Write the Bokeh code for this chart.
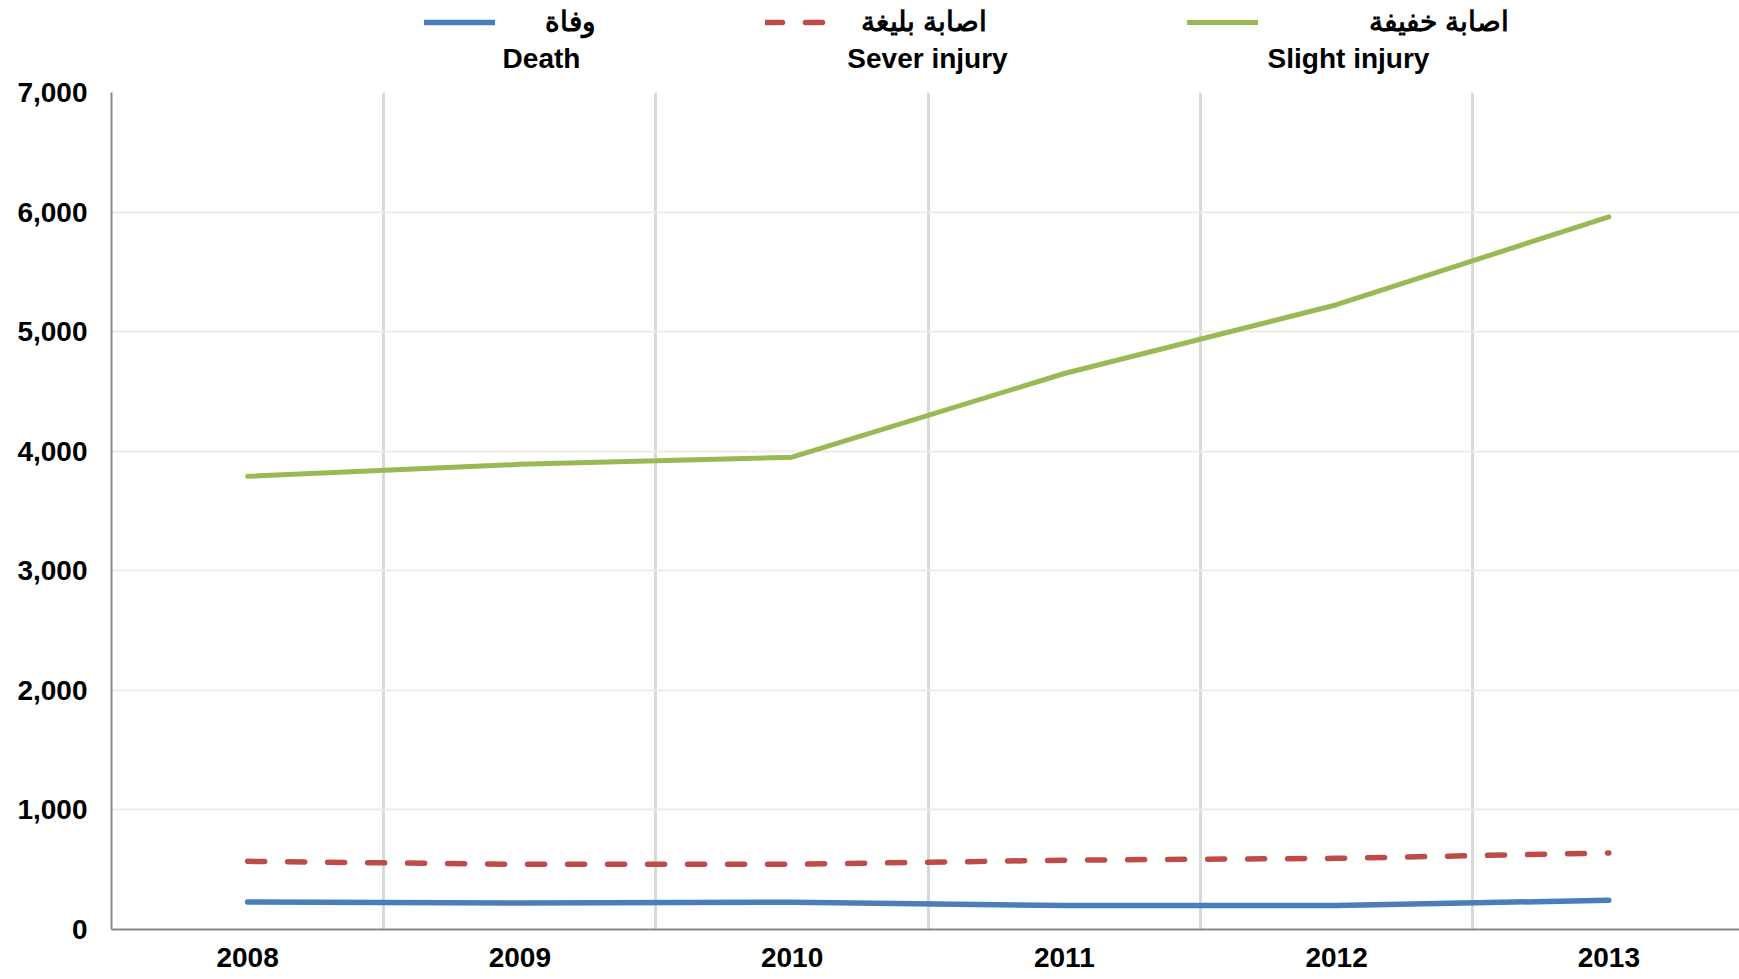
from bokeh.plotting import figure
from bokeh.layouts import column
from bokeh.models import (Range1d, FixedTicker, NumeralTickFormatter, CustomJSTickFormatter,
                          Legend, LegendItem, Label)
from bokeh.embed import file_html
from bokeh.resources import INLINE

years = ["2008", "2009", "2010", "2011", "2012", "2013"]
death = [230, 222, 228, 200, 200, 245]
severe = [570, 545, 545, 580, 595, 640]
slight = [3790, 3890, 3950, 4650, 5225, 5960]
y_ticks = [0, 1000, 2000, 3000, 4000, 5000, 6000, 7000]
labels_ar = ["وفاة", "اصابة بليغة", "اصابة خفيفة"]
labels_en = ["Death", "Sever injury", "Slight injury"]
colors = ["#4A7EBB", "#BE4B48", "#98B954"]
widths = [5.5, 5.5, 5]
dashes = ["solid", "17 23", "solid"]

FONT = "Liberation Sans"
W = 1739
LEFT = 111
LH = 75            # legend strip height
MH = 904           # main figure height
TOP, BOTTOM = 17, 50

xs = [i + 0.5 for i in range(len(years))]
series = [death, severe, slight]

# ---------------- main chart ----------------
p = figure(width=W, height=MH, x_range=Range1d(0, 5.98), y_range=Range1d(0, 7000),
           output_backend="svg", toolbar_location=None,
           min_border_left=LEFT, min_border_right=0, min_border_top=TOP,
           min_border_bottom=BOTTOM)
p.outline_line_color = None

p.xaxis.ticker = FixedTicker(ticks=xs)
p.xaxis.formatter = CustomJSTickFormatter(args=dict(years=years),
                                          code="const i = Math.floor(tick); return years[i] || '';")
p.yaxis.ticker = FixedTicker(ticks=y_ticks)
p.yaxis.formatter = NumeralTickFormatter(format="0,0")
for ax in (p.xaxis[0], p.yaxis[0]):
    ax.axis_line_color = "#898989"
    ax.axis_line_width = 2
    ax.major_tick_in = 0
    ax.major_tick_out = 0
    ax.minor_tick_in = 0
    ax.minor_tick_out = 0
    ax.major_label_text_font = FONT
    ax.major_label_text_font_size = "28px"
    ax.major_label_text_font_style = "bold"
    ax.major_label_text_color = "black"
p.xaxis.major_label_standoff = 18
p.yaxis.major_label_standoff = 24

p.xgrid.ticker = FixedTicker(ticks=[1, 2, 3, 4, 5])
p.xgrid.grid_line_color = "#D9D9D9"
p.xgrid.grid_line_width = 3
p.ygrid.ticker = FixedTicker(ticks=y_ticks)
p.ygrid.grid_line_color = "#EEECE1"
p.ygrid.grid_line_width = 2

for i in range(3):
    p.line(xs, series[i], line_color=colors[i], line_width=widths[i], line_cap="round",
           line_join="round", line_dash=dashes[i])

# ---------------- legend strip (frame aligned with chart frame) ----------------
L = figure(width=W, height=LH, x_range=Range1d(LEFT, W), y_range=Range1d(LH, 0),
           output_backend="svg", toolbar_location=None, x_axis_type=None, y_axis_type=None,
           min_border_left=LEFT, min_border_right=0, min_border_top=0, min_border_bottom=0)
L.outline_line_color = None
L.xgrid.visible = False
L.ygrid.visible = False

leg_x = [424, 765, 1187]        # sample start, page pixels
leg_standoff = [50, 25, 111]
en_x = [541, 927, 1348]
for i in range(3):
    # same series styles; data lies outside this strip's ranges, so only the legend sample shows
    r = L.line(xs, series[i], line_color=colors[i], line_width=widths[i], line_cap="round",
               line_dash=dashes[i])
    leg = Legend(items=[LegendItem(label=labels_ar[i], renderers=[r])],
                 location=(leg_x[i] - LEFT, LH - 22 - 16), orientation="horizontal",
                 glyph_width=71, glyph_height=32, label_height=32, label_width=20,
                 label_standoff=leg_standoff[i], padding=0, margin=0, spacing=0,
                 border_line_color=None, background_fill_alpha=0,
                 label_text_font=FONT, label_text_font_size="28px",
                 label_text_font_style="bold", label_text_color="black")
    L.add_layout(leg)
    L.add_layout(Label(x=en_x[i], y=58, text=labels_en[i], text_align="center",
                       text_baseline="middle", text_font=FONT, text_font_size="28px",
                       text_font_style="bold", text_color="black"))

open("out.html", "w").write(file_html(column(L, p, spacing=0), INLINE))
